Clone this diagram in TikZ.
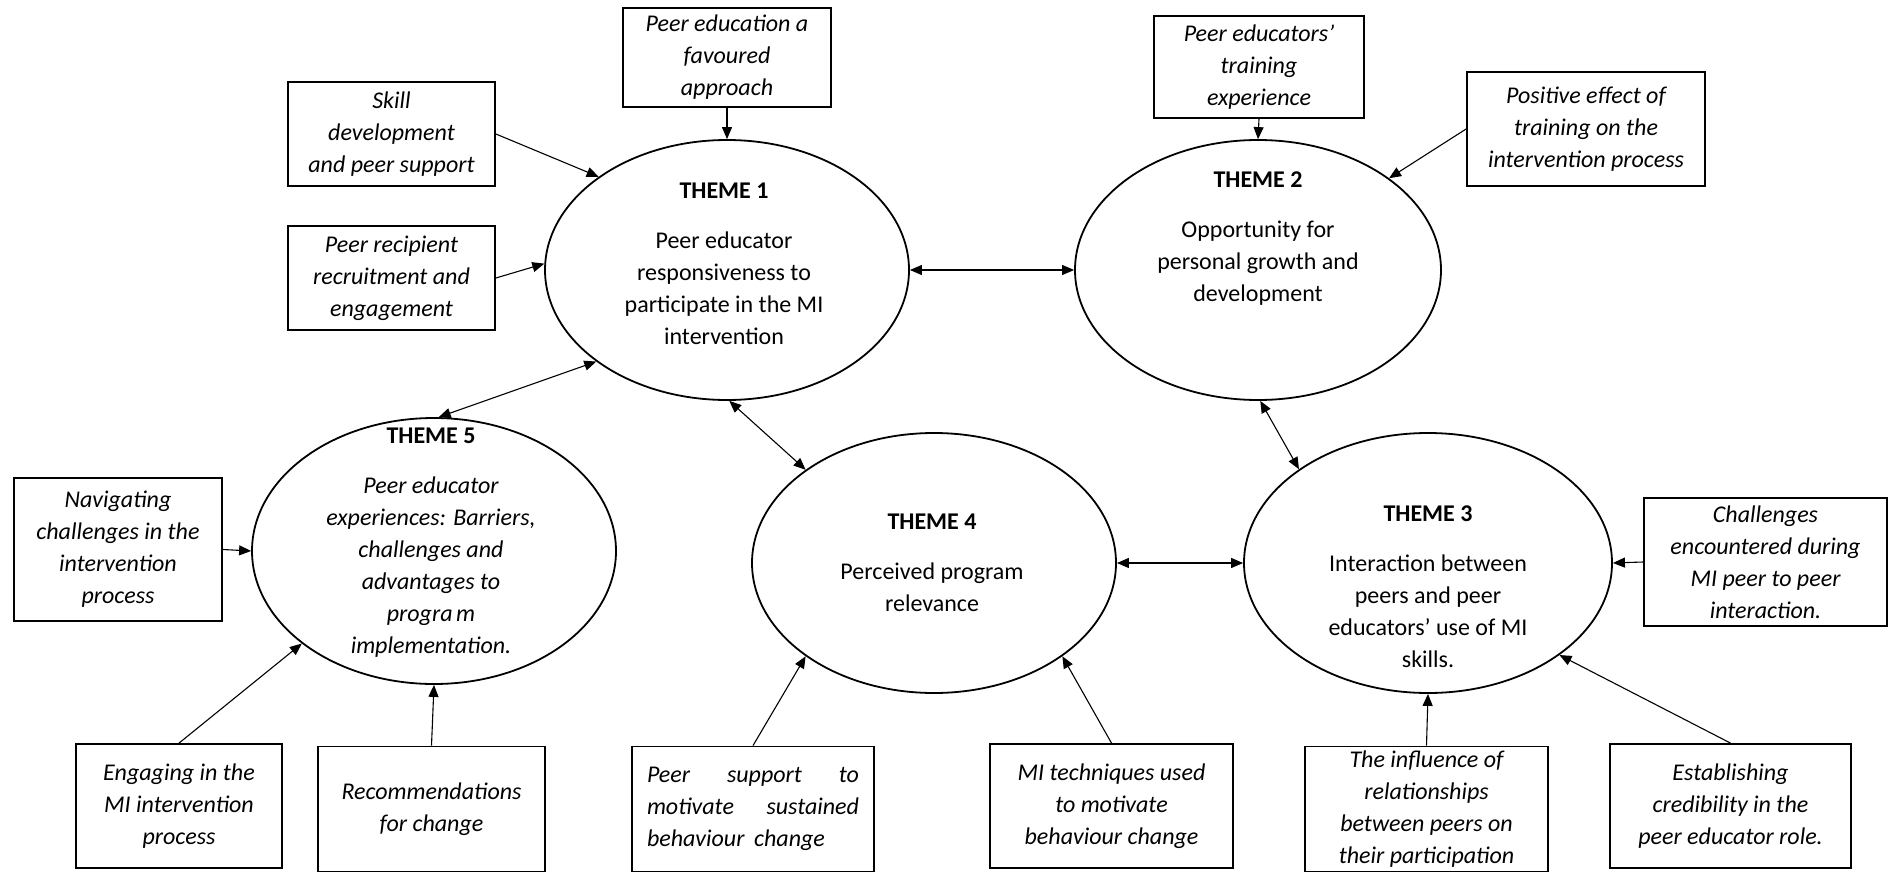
\documentclass[tikz,border=0pt]{standalone}
\usepackage{fontspec}
\setmainfont{Carlito}
\usetikzlibrary{shapes.geometric,arrows.meta}

\tikzset{
  theme/.style={draw, ellipse, line width=1.8pt, inner sep=0pt},
  sub/.style={draw, rectangle, line width=1.8pt, inner sep=0pt, align=center,
    font=\fontsize{24}{32}\selectfont\itshape},
  themetext/.style={align=center, inner sep=0pt, font=\fontsize{24}{32}\selectfont},
  tip/.style={},
  link/.style={line width=1.1pt, -{Triangle[length=12pt,width=10pt]}},
  twoway/.style={line width=1.1pt, {Triangle[length=12pt,width=10pt]}-{Triangle[length=12pt,width=10pt]}}
}

\begin{document}
\begin{tikzpicture}[x=1pt,y=-1pt]
\useasboundingbox (0,0) rectangle (1890,872);

% theme ellipses
\node[theme, minimum width=364pt, minimum height=260pt] (t1) at (727,270) {};
\node[theme, minimum width=366pt, minimum height=260pt] (t2) at (1258,270) {};
\node[theme, minimum width=368pt, minimum height=260pt] (t3) at (1428,563) {};
\node[theme, minimum width=364pt, minimum height=260pt] (t4) at (934,563) {};
\node[theme, minimum width=364pt, minimum height=266pt] (t5) at (434,551) {};

% theme texts
\node[themetext] (t1txt) at (724,263.5) {\textbf{THEME 1}\\[18pt]Peer educator\\responsiveness to\\participate in the MI\\intervention};
\node[themetext] (t2txt) at (1258,238.5) {\textbf{THEME 2}\\[18pt]Opportunity for\\personal growth and\\development};
\node[themetext] (t3txt) at (1428,586.5) {\textbf{THEME 3}\\[18pt]Interaction between\\peers and peer\\educators’ use of MI\\skills.};
\node[themetext] (t4txt) at (932,562.5) {\textbf{THEME 4}\\[18pt]Perceived program\\relevance};
\node[themetext] (t5txt) at (431,542.5) {\textbf{THEME 5}\\[18pt]\itshape Peer educator\\\itshape experiences: Barriers,\\\itshape challenges and\\\itshape advantages to\\\itshape progra\hspace{0.15em}m\\\itshape implementation.};

% sub-theme boxes
\node[sub, minimum width=208pt, minimum height=99pt]  (bfav)   at (727,57.5)   {Peer education a\\favoured\\approach};
\node[sub, minimum width=207pt, minimum height=104pt] (bskill) at (391.5,134)  {Skill\\development\\and peer support};
\node[sub, minimum width=207pt, minimum height=104pt] (brecip) at (391.5,278)  {Peer recipient\\recruitment and\\engagement};
\node[sub, minimum width=210pt, minimum height=102pt] (btrain) at (1259,67)    {Peer educators’\\training\\experience};
\node[sub, minimum width=238pt, minimum height=114pt] (bpos)   at (1586,129)   {Positive effect of\\training on the\\intervention process};
\node[sub, minimum width=208pt, minimum height=143pt] (bnav)   at (118,549.5)  {Navigating\\challenges in the\\intervention\\process};
\node[sub, minimum width=206pt, minimum height=124pt] (beng)   at (179,806)    {Engaging in the\\MI intervention\\process};
\node[sub, minimum width=227pt, minimum height=125pt] (brec)   at (431.5,809)  {Recommendations\\for change};
\node[sub, minimum width=242pt, minimum height=125pt] (bsup)   at (753,809)    {\makebox[212pt][s]{Peer support to}\\\makebox[212pt][s]{motivate sustained}\\\makebox[212pt][l]{behaviour\hspace{0.4em}change}};
\node[sub, minimum width=243pt, minimum height=124pt] (bmi)    at (1111.5,806) {MI techniques used\\to motivate\\behaviour change};
\node[sub, minimum width=243pt, minimum height=125pt] (binfl)  at (1426.5,809) {The influence of\\relationships\\between peers on\\their participation};
\node[sub, minimum width=241pt, minimum height=124pt] (bcred)  at (1730.5,806) {Establishing\\credibility in the\\peer educator role.};
\node[sub, minimum width=243pt, minimum height=128pt] (bchal)  at (1765.5,562) {Challenges\\encountered during\\MI peer to peer\\interaction.};

% links between themes
\draw[twoway] (t1.east) -- (t2.west);
\draw[twoway] (t1.215.6) -- (t5.88);
\draw[twoway] (t1.271) -- (t4.144.1);
\draw[twoway] (t2.271.3) -- (t3.144.1);
\draw[twoway] (t4.east) -- (t3.west);

% sub-themes feeding each theme
\draw[link] (bfav.south) -- (t1.north);
\draw[link] (bskill.east) -- (t1.144.7);
\draw[link] (brecip.east) -- (t1.178);
\draw[link] (btrain.south) -- (t2.north);
\draw[link] (bpos.west) -- (t2.35.5);
\draw[link] (bchal.west) -- (t3.east);
\draw[link] (binfl.north) -- (t3.south);
\draw[link] (bcred.north) -- (t3.325);
\draw[link] (bsup.north) -- (t4.216.6);
\draw[link] (bmi.north) -- (t4.324.7);
\draw[link] (bnav.east) -- (t5.west);
\draw[link] (beng.north) -- (t5.215.2);
\draw[link] (brec.north) -- (t5.south);
\end{tikzpicture}
\end{document}
